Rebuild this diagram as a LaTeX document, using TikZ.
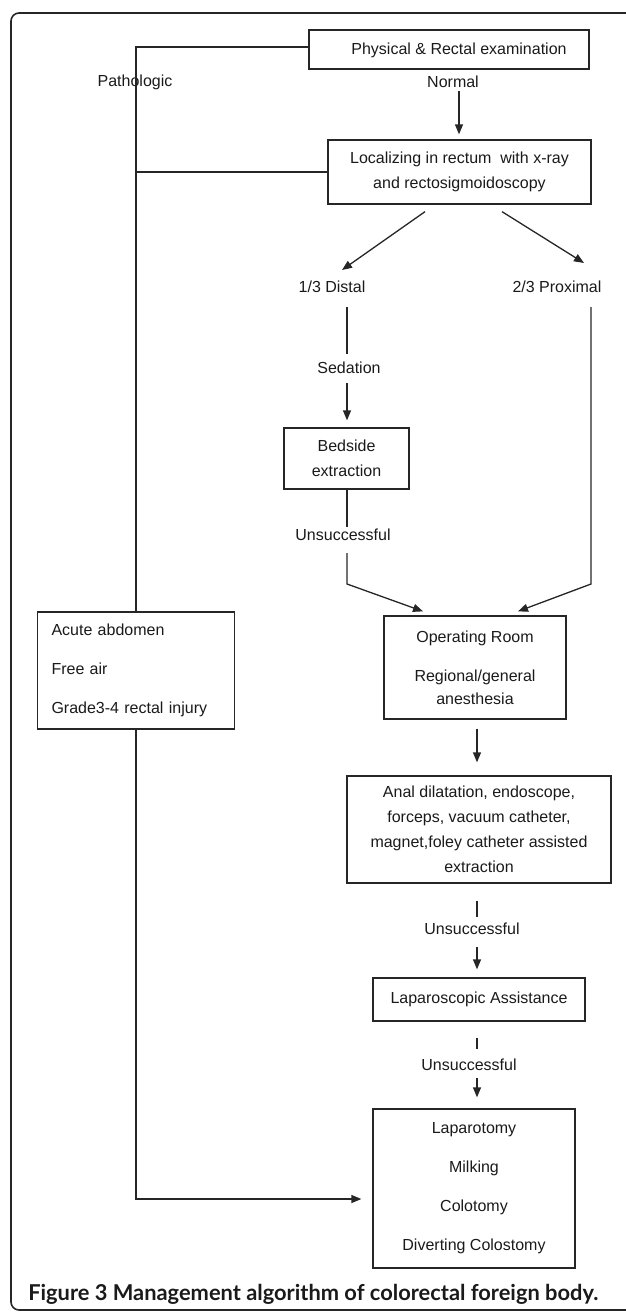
\documentclass[tikz,border=0pt]{standalone}
\usepackage{fontspec}
\setmainfont{Liberation Sans}
\newfontfamily\capfont{Lato}
\usetikzlibrary{arrows.meta,calc}
\newlength\pxu \setlength\pxu{0.75pt}
\definecolor{ln}{HTML}{262626}
\definecolor{tx}{HTML}{1A1A1A}
\begin{document}
\begin{tikzpicture}[x=0.75pt,y=-0.75pt,
  box/.style={draw=ln,line width=1.3\pxu,rectangle,inner sep=0pt,text=tx,align=center,
    font=\fontsize{12}{18.75}\selectfont},
  lbl/.style={text=tx,inner sep=1pt,font=\fontsize{12}{14}\selectfont},
  con/.style={draw=ln,line width=1.3\pxu},
  arr/.style={con,-{Triangle[length=7.5pt,width=6pt]}}]
\useasboundingbox (0,0) rectangle (625,1313);
% frame
\draw[draw=ln,line width=1.6\pxu,rounded corners=8\pxu] (11,1310) rectangle (660,13);

% boxes
\node[box,minimum width=280\pxu,minimum height=39\pxu] (phys) at (449,49.5) {};
\node[lbl] (physT) at (459,50) {Physical \& Rectal examination};
\node[box,minimum width=263\pxu,minimum height=64\pxu] (loc) at (459.5,172)
  {Localizing in rectum\ \ with x-ray\\and rectosigmoidoscopy};
\node[box,minimum width=125\pxu,minimum height=61\pxu] (bed) at (346.5,458.5)
  {Bedside\\extraction};
\node[box,minimum width=182\pxu,minimum height=103\pxu] (op) at (475,667.5)
  {Operating Room\\[10.5pt]Regional/general\\[-1.5pt]anesthesia};
\node[box,minimum width=264\pxu,minimum height=107\pxu] (anal) at (479,829.5)
  {Anal dilatation, endoscope,\\forceps, vacuum catheter,\\magnet,foley catheter assisted\\extraction};
\node[box,minimum width=212\pxu,minimum height=43\pxu] (lapa) at (479,999.5)
  {Laparoscopic Assistance};
\node[box,minimum width=202\pxu,minimum height=159\pxu] (lapt) at (474,1188.5)
  {Laparotomy\\[10.5pt]Milking\\[10.5pt]Colotomy\\[10.5pt]Diverting Colostomy};
\node[box,minimum height=117\pxu,text width=169\pxu,inner xsep=14\pxu,align=left] (acute) at (136,670.5)
  {Acute abdomen\\[10.5pt]Free air\\[11pt]Grade3-4 rectal injury};

% labels
\node[lbl] (patho) at (135,82) {Pathologic};
\node[lbl] (normal) at (453,82) {Normal};
\node[lbl] (distal) at (332,287) {1/3 Distal};
\node[lbl] (prox) at (557,287) {2/3 Proximal};
\node[lbl] (sed) at (349,368) {Sedation};
\node[lbl] (uns1) at (343,535) {Unsuccessful};
\node[lbl] (uns2) at (472,929) {Unsuccessful};
\node[lbl] (uns3) at (469,1065) {Unsuccessful};

% caption
\node[anchor=base west,inner sep=0pt,text=tx] (caption) at (28,1300)
  {\resizebox{570\pxu}{!}{\capfont\bfseries Figure 3 Management algorithm of colorectal foreign body.}};

% connectors
\draw[con] ([yshift=1.9pt]phys.west) -| (acute.north);
\draw[con] (loc.west) -- (loc.west -| acute.north);
\draw[arr] (acute.south) |- ($(lapt.west)+(-11,10.5)$);

\draw[arr] ($(loc.north)+(-0.5,-48)$) -- ($(loc.north)+(-0.5,-5)$);
\draw[arr] ($(loc.south)+(-34.5,7)$) -- ($(distal)+(10,-17)$);
\draw[arr] ($(loc.south)+(42.5,7)$) -- ($(prox)+(27,-24)$);

\draw[con] ($(distal)+(15,20)$) -- ($(sed)+(-2,-14)$);
\draw[arr] ($(sed)+(-2,15)$) -- ($(bed.north)+(0.5,-7)$);
\draw[con] ($(bed.south)+(0.5,0)$) -- ($(uns1)+(4,-8)$);
\coordinate (b1) at ($(uns1)+(4,49)$);
\draw[arr] ($(uns1)+(4,18)$) -- (b1) -- ($(op.north)+(-52,-4)$);
\coordinate (b2) at ($(prox)+(34,297)$);
\draw[arr] ($(prox)+(34,20)$) -- (b2) -- ($(op.north)+(43,-4)$);

\draw[arr] ($(op.south)+(2,9)$) -- ($(anal.north)+(-2,-13)$);
\draw[con] ($(anal.south)+(-2,17)$) -- ($(uns2)+(5,-12)$);
\draw[arr] ($(uns2)+(5,18)$) -- ($(lapa.north)+(-2,-8)$);
\draw[con] ($(lapa.south)+(-2,16)$) -- ($(uns3)+(8,-16)$);
\draw[arr] ($(uns3)+(8,13)$) -- ($(lapt.north)+(3,-11)$);
\end{tikzpicture}
\end{document}
